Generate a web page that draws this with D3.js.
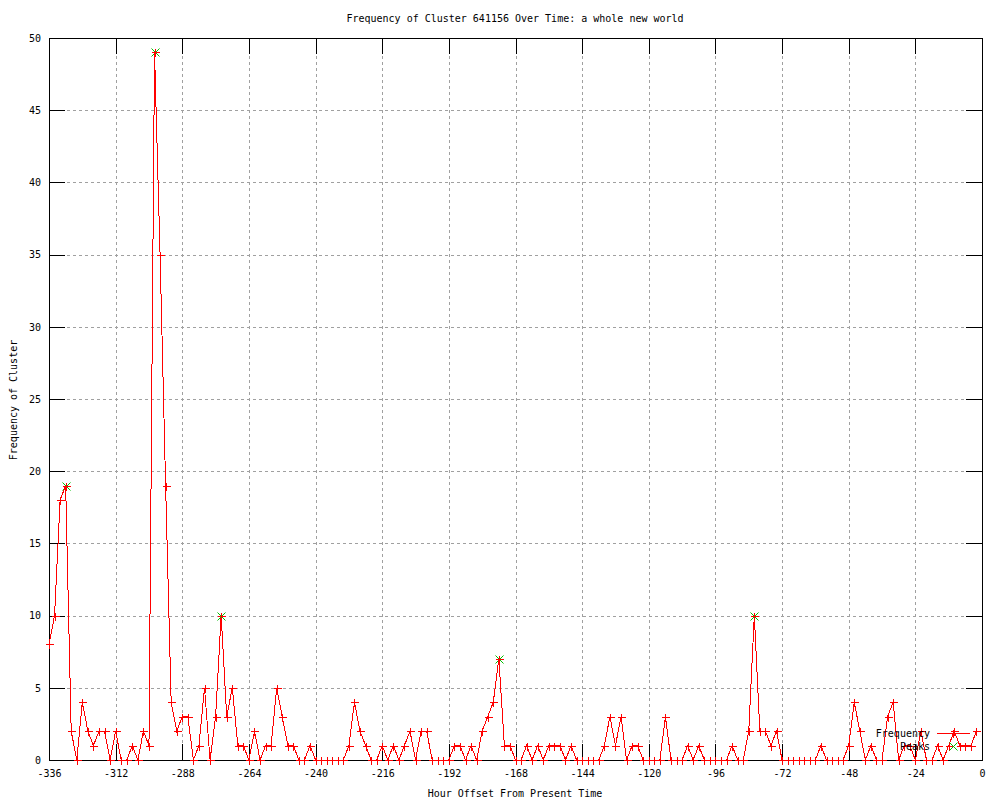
<!DOCTYPE html>
<html>
<head>
<meta charset="utf-8">
<script src="https://cdn.jsdelivr.net/npm/d3@7"></script>
<style>
  body { margin: 0; background: #fff; }
  text { font-family: "DejaVu Sans Mono", "Liberation Mono", monospace; font-size: 10px; fill: #000; }
</style>
</head>
<body>
<div id="chart"></div>
<script>
// hour offsets (every 2 hours) and cluster frequency
var hours = [
  -336,-334,-332,-330,-328,-326,-324,-322,-320,-318,-316,-314,-312,-310,-308,-306,-304,-302,-300,-298,
  -296,-294,-292,-290,-288,-286,-284,-282,-280,-278,-276,-274,-272,-270,-268,-266,-264,-262,-260,-258,
  -256,-254,-252,-250,-248,-246,-244,-242,-240,-238,-236,-234,-232,-230,-228,-226,-224,-222,-220,-218,
  -216,-214,-212,-210,-208,-206,-204,-202,-200,-198,-196,-194,-192,-190,-188,-186,-184,-182,-180,-178,
  -176,-174,-172,-170,-168,-166,-164,-162,-160,-158,-156,-154,-152,-150,-148,-146,-144,-142,-140,-138,
  -136,-134,-132,-130,-128,-126,-124,-122,-120,-118,-116,-114,-112,-110,-108,-106,-104,-102,-100,-98,
  -96,-94,-92,-90,-88,-86,-84,-82,-80,-78,-76,-74,-72,-70,-68,-66,-64,-62,-60,-58,
  -56,-54,-52,-50,-48,-46,-44,-42,-40,-38,-36,-34,-32,-30,-28,-26,-24,-22,-20,-18,
  -16,-14,-12,-10,-8,-6,-4,-2
];
var counts = [
  8,10,18,19,2,0,4,2,1,2,2,0,2,0,0,1,0,2,1,49,
  35,19,4,2,3,3,0,1,5,0,3,10,3,5,1,1,0,2,0,1,
  1,5,3,1,1,0,0,1,0,0,0,0,0,0,1,4,2,1,0,0,
  1,0,1,0,1,2,0,2,2,0,0,0,0,1,1,0,1,0,2,3,
  4,7,1,1,0,0,1,0,1,0,1,1,1,0,1,0,0,0,0,0,
  1,3,1,3,0,1,1,0,0,0,0,3,0,0,0,1,0,1,0,0,
  0,0,0,1,0,0,2,10,2,2,1,2,0,0,0,0,0,0,0,1,
  0,0,0,0,1,4,2,0,1,0,0,3,4,0,1,1,0,2,0,0,
  1,0,1,2,1,1,1,2
];
var peakHours = [-330, -298, -274, -174, -82];
var peakCounts = [19, 49, 10, 7, 10];

var xTicks = [-336, -312, -288, -264, -240, -216, -192, -168, -144, -120, -96, -72, -48, -24, 0];
var yTicks = [0, 5, 10, 15, 20, 25, 30, 35, 40, 45, 50];

(function() {
  var width = 1000,
      height = 800,
      pl = 49, pr = 982, pt = 38, pb = 760,   // plot box
      tickLen = 16;

  var svg = d3.select("#chart").append("svg")
      .attr("width", width)
      .attr("height", height);

  var x = d3.scaleLinear().domain([-336, 0]).range([pl, pr]);
  var y = d3.scaleLinear().domain([0, 50]).range([pb, pt]);

  var freq = hours.map(function(h, i) { return {h: h, v: counts[i]}; });
  var peaks = peakHours.map(function(h, i) { return {h: h, v: peakCounts[i]}; });

  function px(v) { return Math.round(v) + 0.5; }

  // dotted grid
  var grid = svg.append("g")
      .attr("stroke", "#a0a0a0")
      .attr("stroke-dasharray", "3,3")
      .attr("shape-rendering", "crispEdges");
  grid.selectAll(".gx").data(xTicks.slice(1, -1)).enter().append("line")
      .attr("x1", function(d) { return px(x(d)); })
      .attr("x2", function(d) { return px(x(d)); })
      .attr("y1", pt).attr("y2", pb);
  grid.selectAll(".gy").data(yTicks.slice(1, -1)).enter().append("line")
      .attr("y1", function(d) { return px(y(d)); })
      .attr("y2", function(d) { return px(y(d)); })
      .attr("x1", pl).attr("x2", pr);

  // axes, ticks pointing inward and mirrored
  var fmt = function(d) { return String(d); };
  function axisG(axis, tx, ty) {
    var g = svg.append("g").attr("transform", "translate(" + tx + "," + ty + ")")
        .call(axis);
    g.attr("font-family", null).attr("font-size", null);
    g.select(".domain").remove();
    g.selectAll("line").attr("stroke", "#000").attr("shape-rendering", "crispEdges");
    return g;
  }
  axisG(d3.axisBottom(x).tickValues(xTicks).tickFormat(fmt).tickSizeInner(-tickLen).tickSizeOuter(0).tickPadding(10), 0, pb);
  axisG(d3.axisTop(x).tickValues(xTicks).tickFormat("").tickSizeInner(-tickLen).tickSizeOuter(0), 0, pt);
  axisG(d3.axisLeft(y).tickValues(yTicks).tickFormat(fmt).tickSizeInner(-tickLen).tickSizeOuter(0).tickPadding(8), pl, 0);
  axisG(d3.axisRight(y).tickValues(yTicks).tickFormat("").tickSizeInner(-tickLen).tickSizeOuter(0), pr, 0);

  svg.append("rect")
      .attr("x", pl + 0.5).attr("y", pt + 0.5)
      .attr("width", pr - pl).attr("height", pb - pt)
      .attr("fill", "none").attr("stroke", "#000")
      .attr("shape-rendering", "crispEdges");

  var cross = function(cx, cy, r) {
    return "M" + (cx - r) + "," + (cy - r) + "L" + (cx + r) + "," + (cy + r) +
           "M" + (cx - r) + "," + (cy + r) + "L" + (cx + r) + "," + (cy - r);
  };
  var plus = function(cx, cy, r) {
    return "M" + (cx - r) + "," + cy + "H" + (cx + r) + "M" + cx + "," + (cy - r) + "V" + (cy + r);
  };

  // peaks (green x)
  svg.append("g").selectAll("path").data(peaks).enter().append("path")
      .attr("d", function(d) { return cross(px(x(d.h)), px(y(d.v)), 4); })
      .attr("stroke", "#00c000").attr("fill", "none");

  // frequency line + markers
  var line = d3.line().x(function(d) { return x(d.h); }).y(function(d) { return y(d.v); });
  svg.append("path")
      .datum(freq)
      .attr("d", line)
      .attr("fill", "none")
      .attr("stroke", "#ff0000")
      .attr("stroke-width", 1)
      .attr("shape-rendering", "crispEdges");
  svg.append("g").selectAll("path").data(freq).enter().append("path")
      .attr("d", function(d) { return plus(px(x(d.h)), px(y(d.v)), 4); })
      .attr("stroke", "#ff0000").attr("fill", "none")
      .attr("shape-rendering", "crispEdges");

  // legend
  var lg = svg.append("g");
  lg.append("text").attr("x", 930).attr("y", 737).attr("text-anchor", "end").text("Frequency");
  lg.append("line").attr("x1", 937).attr("x2", 970).attr("y1", 733.5).attr("y2", 733.5)
      .attr("stroke", "#ff0000").attr("shape-rendering", "crispEdges");
  lg.append("path").attr("d", plus(953.5, 733.5, 4)).attr("stroke", "#ff0000")
      .attr("shape-rendering", "crispEdges");
  lg.append("text").attr("x", 930).attr("y", 750).attr("text-anchor", "end").text("Peaks");
  lg.append("path").attr("d", cross(953.5, 746.5, 4)).attr("stroke", "#00c000");

  // titles
  svg.append("text").attr("x", 515).attr("y", 22).attr("text-anchor", "middle")
      .text("Frequency of Cluster 641156 Over Time: a whole new world");
  svg.append("text").attr("x", 515).attr("y", 797).attr("text-anchor", "middle")
      .text("Hour Offset From Present Time");
  svg.append("text").attr("transform", "translate(17,400) rotate(-90)").attr("text-anchor", "middle")
      .text("Frequency of Cluster");
})();
</script>
</body>
</html>
